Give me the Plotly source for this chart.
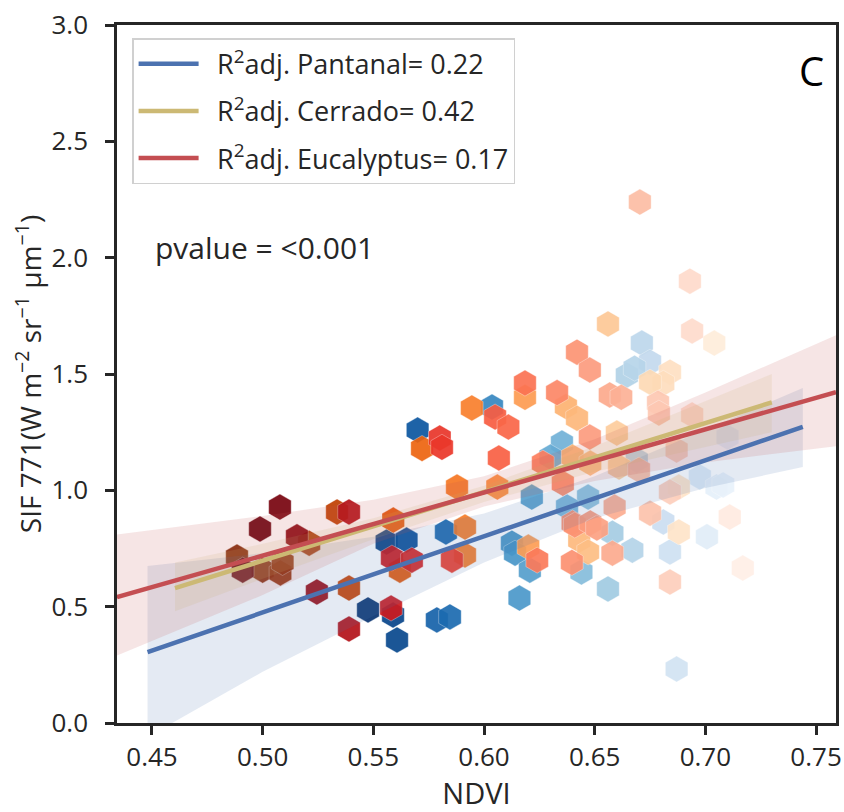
import plotly.graph_objects as go
import plotly.colors as pc

# ---- hexagon cells: NDVI (x) and SIF 771 (y) per land cover ----
pantanal_x = [0.570, 0.6036, 0.6216, 0.556, 0.565, 0.5828, 0.5476, 0.5589, 0.5607,
              0.5787, 0.5846, 0.616, 0.6126, 0.614, 0.6207, 0.6352, 0.630, 0.6713,
              0.675, 0.6645, 0.668, 0.710, 0.669, 0.6975, 0.705, 0.708, 0.681,
              0.7007, 0.658, 0.667, 0.684, 0.644, 0.656, 0.687, 0.647, 0.6375]
pantanal_y = [1.259, 1.358, 0.971, 0.778, 0.786, 0.821, 0.486, 0.464, 0.357,
              0.443, 0.456, 0.537, 0.773, 0.730, 0.657, 1.203, 1.143, 1.633,
              1.551, 1.495, 1.525, 1.229, 1.130, 1.057, 1.014, 1.023, 0.864,
              0.800, 0.816, 0.743, 0.735, 0.649, 0.576, 0.232, 0.971, 0.928]

cerrado_x = [0.4884, 0.500, 0.508, 0.509, 0.521, 0.5336, 0.539, 0.572, 0.5945,
             0.6185, 0.5878, 0.606, 0.559, 0.562, 0.5914, 0.5914, 0.620, 0.637,
             0.642, 0.660, 0.656, 0.684, 0.681, 0.675, 0.704, 0.688, 0.688,
             0.643, 0.647, 0.640, 0.648, 0.661]
cerrado_y = [0.713, 0.657, 0.645, 0.690, 0.773, 0.907, 0.580, 1.180, 1.354,
             1.400, 1.014, 1.014, 0.872, 0.657, 0.842, 0.722, 0.756, 1.360,
             1.310, 1.246, 1.715, 1.508, 1.460, 1.465, 1.633, 1.014, 0.821,
             0.786, 0.735, 1.143, 1.117, 1.100]

eucalyptus_x = [0.5078, 0.4988, 0.491, 0.5155, 0.5245, 0.539, 0.539, 0.580, 0.581,
                0.605, 0.611, 0.6185, 0.633, 0.6067, 0.5584, 0.5674, 0.5855, 0.558,
                0.624, 0.6266, 0.6356, 0.640, 0.6397, 0.642, 0.6478, 0.6478, 0.6568,
                0.662, 0.694, 0.6786, 0.679, 0.694, 0.687, 0.670, 0.684, 0.659,
                0.675, 0.711, 0.641, 0.648, 0.651, 0.658, 0.684, 0.7169, 0.6704,
                0.693]
eucalyptus_y = [0.928, 0.834, 0.657, 0.800, 0.563, 0.907, 0.404, 1.225, 1.185,
                1.315, 1.272, 1.461, 1.420, 1.139, 0.709, 0.700, 0.700, 0.494,
                0.700, 1.117, 1.030, 0.860, 0.690, 1.594, 1.517, 1.229, 1.410,
                1.400, 1.685, 1.375, 1.332, 1.324, 1.173, 1.087, 0.993, 0.928,
                0.902, 0.885, 0.851, 0.860, 0.838, 0.730, 0.606, 0.666, 2.239,
                1.899]

# ---- fitted lines (end points) and 95% confidence bands ----
pantanal_fit_x = [0.448, 0.744]
pantanal_fit_y = [0.305, 1.273]
pantanal_band_x = [0.448, 0.50, 0.55, 0.60, 0.65, 0.70, 0.744]
pantanal_band_lo = [-0.06, 0.22, 0.46, 0.69, 0.88, 1.01, 1.10]
pantanal_band_hi = [0.675, 0.73, 0.80, 0.90, 1.06, 1.26, 1.44]

cerrado_fit_x = [0.4604, 0.730]
cerrado_fit_y = [0.580, 1.378]
cerrado_band_x = [0.4604, 0.50, 0.55, 0.60, 0.65, 0.730]
cerrado_band_lo = [0.48, 0.62, 0.79, 0.95, 1.08, 1.25]
cerrado_band_hi = [0.69, 0.77, 0.88, 1.02, 1.19, 1.50]

eucalyptus_fit_x = [0.4342, 0.759]
eucalyptus_fit_y = [0.541, 1.422]
eucalyptus_band_x = [0.4342, 0.50, 0.55, 0.60, 0.65, 0.70, 0.759]
eucalyptus_band_lo = [0.29, 0.55, 0.77, 0.93, 1.04, 1.12, 1.19]
eucalyptus_band_hi = [0.81, 0.89, 0.96, 1.06, 1.22, 1.42, 1.667]

legend_names = ["\u2002R<sup>2</sup>adj. Pantanal= 0.22",
                "\u2002R<sup>2</sup>adj. Cerrado= 0.42",
                "\u2002R<sup>2</sup>adj. Eucalyptus= 0.17"]

x_ticks = [0.45, 0.50, 0.55, 0.60, 0.65, 0.70, 0.75]
y_ticks = [0.0, 0.5, 1.0, 1.5, 2.0, 2.5, 3.0]

FONT = "Open Sans"
INK = "#262626"

series = [
    dict(x=pantanal_x, y=pantanal_y, scale=pc.sequential.Blues, cmin=0.545, cmax=0.72,
         line="#4C72B0", band="rgba(76,114,176,0.15)",
         fx=pantanal_fit_x, fy=pantanal_fit_y,
         bx=pantanal_band_x, lo=pantanal_band_lo, hi=pantanal_band_hi),
    dict(x=cerrado_x, y=cerrado_y, scale=pc.sequential.Oranges, cmin=0.49, cmax=0.72,
         line="#CCB974", band="rgba(204,185,116,0.15)",
         fx=cerrado_fit_x, fy=cerrado_fit_y,
         bx=cerrado_band_x, lo=cerrado_band_lo, hi=cerrado_band_hi),
    dict(x=eucalyptus_x, y=eucalyptus_y, scale=pc.sequential.Reds, cmin=0.50, cmax=0.725,
         line="#C44E52", band="rgba(196,78,82,0.15)",
         fx=eucalyptus_fit_x, fy=eucalyptus_fit_y,
         bx=eucalyptus_band_x, lo=eucalyptus_band_lo, hi=eucalyptus_band_hi),
]

fig = go.Figure()

# hexagon cells, shaded by NDVI (darker = lower NDVI)
for s in series:
    fig.add_trace(go.Scatter(
        x=s["x"], y=s["y"], mode="markers", showlegend=False, hoverinfo="skip",
        marker=dict(symbol="hexagon", size=26, color=s["x"],
                    colorscale=s["scale"], reversescale=True,
                    cmin=s["cmin"], cmax=s["cmax"], opacity=0.92,
                    line=dict(width=0.6, color="rgba(255,255,255,0.6)")),
    ))

# confidence bands
for s in series:
    fig.add_trace(go.Scatter(
        x=s["bx"] + s["bx"][::-1], y=s["hi"] + s["lo"][::-1],
        fill="toself", fillcolor=s["band"], line=dict(width=0),
        mode="lines", showlegend=False, hoverinfo="skip",
    ))

# regression lines
for i, (s, name) in enumerate(zip(series, legend_names)):
    fig.add_trace(go.Scatter(
        x=s["fx"], y=s["fy"], mode="lines", name=name,
        legendgroup=f"g{i}",
        line=dict(color=s["line"], width=4.5),
    ))

fig.add_annotation(x=0.4505, y=2.045, xref="x", yref="y", text="pvalue = <0.001",
                   showarrow=False, xanchor="left", yanchor="middle",
                   font=dict(family=FONT, size=30, color=INK))
fig.add_annotation(x=0.966, y=0.935, xref="paper", yref="paper", text="C",
                   showarrow=False, xanchor="center", yanchor="middle",
                   font=dict(family=FONT, size=40, color="#000000"))

axis_common = dict(
    showline=True, linewidth=2.5, linecolor=INK, mirror=True,
    ticks="outside", ticklen=9, tickwidth=2.5, tickcolor=INK,
    showgrid=False, zeroline=False, automargin=False,
    tickfont=dict(family=FONT, size=26, color=INK),
)

fig.update_layout(
    width=844, height=812,
    margin=dict(l=117, r=8, t=25, b=89),
    paper_bgcolor="white", plot_bgcolor="white",
    font=dict(family=FONT, color=INK),
    xaxis=dict(range=[0.4342, 0.759], tickvals=x_ticks,
               ticktext=[f"{v:.2f}" for v in x_ticks],
               title=dict(text="NDVI", font=dict(family=FONT, size=29, color=INK), standoff=18),
               ticklabelstandoff=0, **axis_common),
    yaxis=dict(range=[0, 3.0], tickvals=y_ticks,
               ticktext=[f"{v:.1f}" for v in y_ticks],
               title=dict(text="SIF 771(W m<sup>\u22122</sup> sr<sup>\u22121</sup> \u03bcm<sup>\u22121</sup>)",
                          font=dict(family=FONT, size=28, color=INK), standoff=2),
               ticklabelstandoff=12, **axis_common),
    legend=dict(x=0.021, y=0.981, xanchor="left", yanchor="top",
                bgcolor="rgba(255,255,255,0.85)", bordercolor="#d0d0d0", borderwidth=1.5,
                font=dict(family=FONT, size=27, color=INK),
                traceorder="grouped", tracegroupgap=9, itemwidth=60),
)

fig.write_html("out.html")
